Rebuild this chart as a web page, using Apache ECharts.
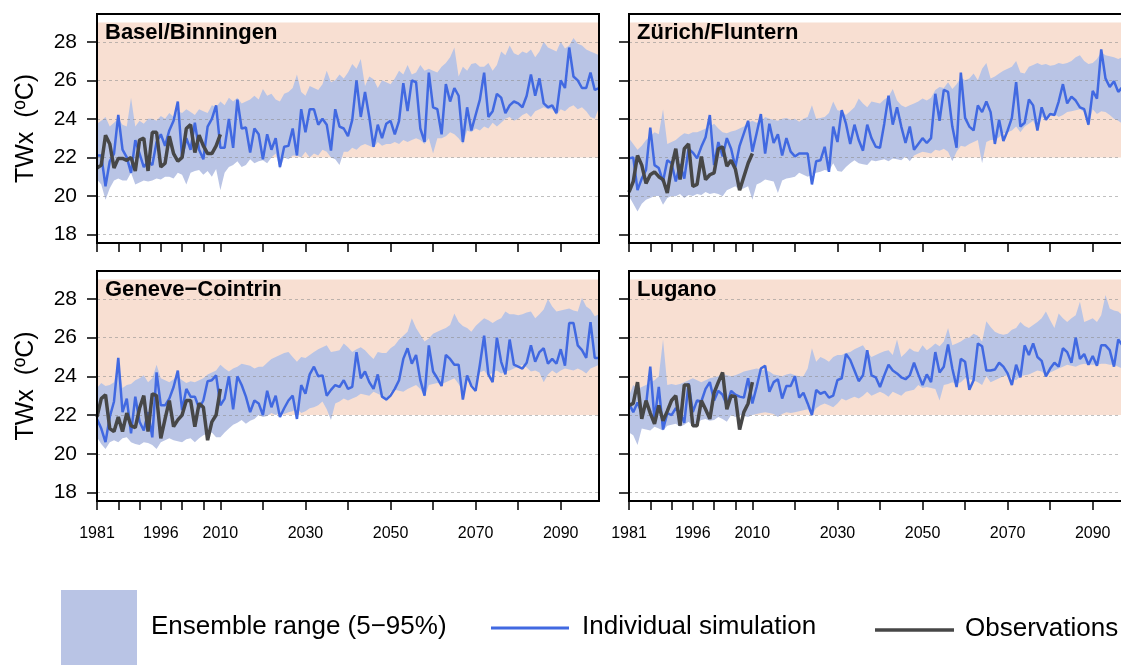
<!DOCTYPE html>
<html>
<head>
<meta charset="utf-8">
<script src="https://cdn.jsdelivr.net/npm/echarts@6/dist/echarts.min.js"></script>
<style>
  html, body { margin: 0; padding: 0; background: #fff; }
  #main { width: 1121px; height: 665px; }
</style>
</head>
<body>
<div id="main"></div>
<script>
// years 1981..2099, observations 1981..2010
var firstYear = 1981;

var stationNames = ['Basel/Binningen', 'Zürich/Fluntern', 'Geneve\u2212Cointrin', 'Lugano'];

var xTickYears = [1981, 1986, 1991, 1996, 2001, 2006, 2010, 2020, 2030, 2040, 2050, 2060, 2070, 2080, 2090];
var xLabelYears = [1981, 1996, 2010, 2030, 2050, 2070, 2090];
var yTicks = [18, 20, 22, 24, 26, 28];

// Basel/Binningen
var baselSim = [22.1,22.1,20.5,21.8,22.2,24.2,22.4,22.0,21.2,22.9,
  22.2,21.5,21.8,21.6,22.8,23.2,22.6,23.4,23.9,24.9,
  22.0,23.0,22.4,23.8,22.4,21.9,23.6,24.0,24.7,22.5,
  22.5,24.0,22.5,25.0,23.5,23.55,22.25,23.5,23.2,21.9,
  23.2,22.4,23.0,21.5,22.55,22.6,23.5,22.1,24.5,23.3,
  24.5,24.5,23.7,24.0,23.7,22.35,24.5,23.6,23.5,23.1,
  23.95,26.0,24.1,25.4,24.1,22.55,23.7,23.0,23.75,23.9,
  23.2,23.9,25.85,24.4,26.0,25.9,23.5,22.8,26.4,24.6,
  24.5,23.2,25.8,24.9,25.6,25.2,22.8,24.6,23.4,24.2,
  25.0,26.4,24.1,24.4,25.3,25.1,24.3,24.7,24.9,24.8,
  24.6,25.2,26.3,25.2,26.1,24.8,24.6,24.7,24.3,26.0,
  25.6,27.7,26.2,26.0,25.6,25.6,26.4,25.5,25.6];
var baselHi = [23.75,23.9,24.1,23.6,23.8,24.0,23.7,23.6,25.1,23.6,
  23.9,23.75,24.0,24.0,23.9,24.15,24.0,24.3,24.1,24.4,
  24.3,24.5,24.35,24.2,24.5,24.4,24.3,24.7,24.6,24.9,
  24.7,25.1,24.9,25.1,24.8,24.9,25.0,25.2,25.0,25.55,
  25.2,25.3,25.0,24.9,25.3,25.4,25.6,26.3,25.4,25.2,
  25.7,25.6,25.5,25.8,26.5,25.9,26.0,26.3,26.1,26.4,
  26.85,26.6,27.1,25.7,26.2,26.05,25.6,26.0,25.9,25.8,
  26.1,26.5,26.3,26.8,26.3,26.4,26.8,26.5,26.6,26.5,
  26.4,26.7,26.9,27.2,27.7,26.2,26.7,26.5,26.85,26.9,
  26.7,26.7,26.9,26.5,26.8,27.5,27.3,27.8,27.4,27.3,
  27.5,27.4,27.6,27.2,27.5,28.0,27.7,27.6,27.5,28.0,
  27.65,27.8,28.2,27.9,27.8,27.6,27.5,27.4,27.3];
var baselLo = [20.85,20.6,19.8,20.4,20.8,20.9,20.8,20.8,21.2,20.6,
  20.7,20.8,20.75,20.8,20.9,20.85,21.0,21.0,20.9,21.2,
  21.1,20.6,21.2,21.3,21.35,21.1,21.3,21.0,21.4,20.3,
  21.2,21.5,21.6,21.8,21.5,21.6,21.9,21.7,21.8,21.85,
  21.7,22.0,22.2,21.4,22.0,21.9,22.1,22.1,22.0,22.3,
  22.0,22.2,22.1,22.4,22.3,22.0,21.9,21.6,22.3,22.3,
  22.5,22.4,22.6,22.7,22.6,22.5,22.8,22.6,22.7,22.7,
  22.8,22.7,22.9,22.8,22.9,23.0,22.9,22.7,23.0,22.2,
  23.0,23.0,23.1,23.3,23.2,23.0,22.7,23.4,23.3,23.5,
  23.4,23.6,23.5,23.8,23.6,23.8,24.0,24.1,23.9,24.0,
  24.2,24.3,24.1,24.4,24.5,24.6,24.5,24.5,24.2,24.5,
  24.4,24.6,24.7,24.5,24.6,24.4,24.1,24.0,24.6];
var baselObs = [21.45,21.6,23.15,22.7,21.45,21.95,21.95,21.85,22.0,21.3,
  22.9,23.0,21.3,23.3,23.3,21.5,21.7,23.1,22.2,21.8,
  22.0,23.5,23.7,22.25,23.15,22.6,22.2,22.2,22.6,23.2];

// Zürich/Fluntern
var zurichSim = [21.95,22.0,20.3,20.9,21.35,23.55,21.6,21.45,20.75,21.85,
  21.7,20.75,21.65,20.9,22.45,22.25,21.95,22.55,23.05,24.2,
  21.6,22.8,22.05,23.0,22.45,21.5,22.6,23.25,23.9,22.3,
  23.25,24.25,22.2,23.75,22.75,23.2,22.1,23.0,22.3,22.05,
  22.2,22.2,22.2,20.6,21.8,21.85,22.55,21.25,23.6,22.8,
  24.45,23.75,22.7,23.7,22.9,22.35,23.7,23.0,22.55,22.5,
  23.75,25.2,23.7,24.6,23.6,22.75,23.6,22.4,22.7,23.0,
  22.75,23.0,25.3,23.9,25.5,25.4,23.6,22.5,26.4,24.05,
  23.6,23.4,24.7,24.35,24.9,24.35,22.7,23.95,22.85,23.4,
  24.05,25.9,23.6,23.8,25.0,24.7,23.4,24.6,23.95,24.25,
  24.2,24.9,25.8,24.8,25.15,24.95,24.6,24.5,23.7,25.45,
  25.05,27.6,26.1,25.65,25.95,25.4,25.65,25.5,25.8];
var zurichHi = [23.0,22.7,22.4,22.6,22.9,23.1,23.3,23.2,24.5,22.7,
  22.8,22.9,23.1,23.25,23.2,23.3,23.3,23.4,23.5,23.6,
  23.75,23.5,23.3,23.25,23.35,23.4,23.5,23.6,23.8,23.9,
  23.8,23.85,24.1,24.0,23.95,23.9,24.0,24.05,23.95,24.0,
  23.85,24.0,24.1,24.7,24.0,24.05,24.1,24.3,24.9,24.45,
  24.4,24.2,24.4,24.6,25.05,24.8,24.6,24.9,24.85,24.8,
  25.0,25.15,25.55,24.95,24.7,24.6,24.7,24.8,24.9,25.05,
  24.95,25.1,25.5,25.65,25.6,25.9,25.55,25.8,26.15,26.0,
  26.1,26.35,26.0,26.6,26.9,26.1,26.2,26.35,26.5,26.6,
  26.7,27.0,26.4,26.35,26.7,26.8,26.9,26.8,26.85,26.75,
  26.8,26.9,26.85,26.9,27.0,27.2,27.3,27.0,26.85,26.9,
  27.1,27.45,27.3,27.25,27.2,27.1,27.2,27.1,27.0];
var zurichLo = [19.98,19.6,19.2,19.6,19.8,19.9,20.0,20.0,19.55,19.9,
  20.0,19.98,20.1,19.9,20.05,20.0,20.1,20.05,20.2,20.1,
  20.15,20.1,19.98,20.3,20.4,20.5,20.3,20.4,20.5,19.8,
  20.6,20.7,20.85,20.8,20.75,20.15,20.8,20.9,20.95,21.0,
  21.2,21.1,21.0,21.1,21.2,21.25,21.35,21.3,21.7,21.3,
  21.25,21.5,21.7,21.85,21.7,21.65,21.6,21.85,21.8,21.85,
  21.9,21.8,21.95,21.9,21.85,22.05,21.8,22.1,22.2,22.3,
  22.25,22.2,22.4,22.35,22.45,22.3,21.8,22.3,22.6,22.55,
  22.7,22.8,22.9,21.7,22.8,22.9,22.9,23.05,23.25,23.3,
  23.4,23.6,23.3,23.6,23.75,23.9,23.4,24.1,24.0,24.2,
  24.25,24.1,24.2,24.35,24.4,24.45,24.5,24.35,23.6,24.5,
  24.25,24.4,24.35,24.2,24.0,23.9,23.75,23.8,23.9];
var zurichObs = [20.2,20.75,22.1,21.6,20.65,21.1,21.25,21.0,20.85,20.15,
  21.5,22.45,20.85,22.45,22.7,20.5,20.6,22.05,20.85,21.1,
  21.2,22.45,22.55,21.55,21.85,21.4,20.3,21.0,21.7,22.2];

// Geneve-Cointrin
var geneveSim = [21.8,21.3,20.6,21.9,22.7,24.95,22.15,22.85,21.05,22.95,
  21.65,21.2,22.15,20.85,24.2,22.5,22.5,22.85,23.45,24.3,
  22.25,23.35,22.95,22.95,22.35,22.75,23.75,23.8,24.05,22.5,
  22.85,24.0,22.3,24.0,23.55,22.95,22.15,22.75,22.6,22.0,
  23.25,22.4,23.0,21.9,22.35,22.75,23.0,21.8,23.55,23.1,
  24.1,24.5,24.0,24.05,23.0,23.3,23.55,23.45,23.8,23.35,
  23.45,25.25,23.9,24.25,23.7,23.35,24.1,22.95,22.8,23.0,
  23.35,23.8,24.9,25.45,24.65,25.1,23.8,23.0,25.6,24.25,
  23.9,23.5,25.1,24.9,24.6,24.6,22.8,24.05,23.5,23.25,
  24.6,26.1,24.1,23.7,26.0,24.75,24.1,25.9,24.6,24.5,
  24.4,24.7,25.6,24.75,25.25,25.45,24.65,24.9,24.65,25.4,
  24.55,26.75,26.75,25.6,25.35,24.95,26.8,24.95,24.95];
var geneveHi = [23.4,23.65,23.5,23.55,23.7,24.75,23.4,23.55,23.6,23.8,
  23.9,24.05,23.7,23.9,24.6,23.9,23.8,23.7,23.85,24.0,
  23.8,23.65,23.75,23.7,23.8,23.9,24.1,24.2,24.3,24.6,
  24.4,24.25,24.4,24.5,24.65,24.6,24.55,24.4,24.5,24.5,
  24.7,24.9,25.0,25.1,25.2,25.25,25.0,24.75,25.0,24.95,
  25.1,25.25,25.4,25.5,25.6,25.25,25.3,25.35,25.7,25.5,
  25.25,25.4,25.5,25.35,25.1,24.9,25.25,25.2,25.2,25.45,
  25.6,25.9,26.1,26.3,27.0,26.5,26.15,25.8,25.95,26.2,
  26.3,26.4,26.5,26.65,27.25,26.8,26.6,26.5,26.3,26.6,
  26.8,27.0,26.9,26.75,26.9,27.0,27.35,27.2,27.2,27.15,
  27.2,27.3,27.35,27.0,27.2,27.45,28.0,27.6,27.35,27.4,
  27.45,27.5,27.4,27.35,28.05,27.6,27.45,27.1,27.2];
var geneveLo = [20.85,20.5,20.25,20.6,20.7,20.6,20.8,20.85,20.6,20.5,
  20.45,20.6,20.55,20.45,20.25,20.6,20.7,20.8,20.7,20.65,
  20.6,20.75,20.8,20.6,20.8,20.95,21.05,21.1,20.85,20.85,
  21.1,21.3,21.5,21.6,21.75,21.55,21.7,21.8,22.0,21.9,
  21.95,22.1,22.0,22.1,22.05,22.15,22.2,22.35,22.1,22.2,
  22.35,22.4,22.5,22.7,22.3,21.75,22.6,22.7,22.85,22.75,
  22.85,22.95,23.1,23.05,23.0,23.2,23.1,23.0,22.7,23.2,
  23.3,23.25,23.2,23.35,23.45,23.55,23.35,22.95,23.55,23.6,
  23.65,23.6,23.7,23.8,23.9,23.6,23.2,23.8,23.6,23.4,
  24.2,24.3,24.0,24.2,24.3,24.15,24.25,24.3,24.4,24.5,
  24.6,24.45,24.25,24.3,24.2,23.7,24.1,24.3,24.15,24.3,
  24.4,24.35,24.3,24.4,24.3,24.15,24.4,24.5,24.6];
var geneveObs = [21.9,22.85,23.05,21.3,21.15,21.9,21.15,22.1,21.45,21.35,
  22.35,23.0,21.15,23.1,23.0,20.8,21.8,22.75,21.4,21.75,
  22.0,22.75,22.75,21.4,22.6,22.4,20.7,21.65,22.0,23.35];

// Lugano
var luganoSim = [22.6,22.15,22.65,22.1,22.5,24.5,21.75,23.45,21.25,22.1,
  22.0,22.35,22.15,21.6,23.65,22.15,22.75,22.7,23.35,23.7,
  22.75,23.25,23.05,22.5,23.25,23.05,22.95,22.9,23.9,22.6,
  23.45,24.4,24.55,23.2,23.7,23.85,22.85,23.5,23.5,24.0,
  22.9,23.15,22.6,22.0,23.3,23.1,23.2,22.9,23.0,23.8,
  23.9,25.15,24.85,24.3,23.75,24.05,25.35,24.05,23.95,23.45,
  24.05,24.6,24.3,24.15,23.95,23.85,24.05,24.7,24.1,23.55,
  24.1,23.7,25.25,24.2,24.5,25.65,24.4,23.45,24.9,24.75,
  23.3,23.8,25.7,25.55,24.3,24.3,24.35,24.7,24.5,24.15,
  23.55,24.6,23.95,25.6,25.1,25.7,25.0,24.8,24.0,24.4,
  24.7,24.5,25.45,25.25,24.7,26.0,24.9,25.15,24.6,25.05,
  24.55,25.6,25.6,25.35,24.5,25.9,25.6,25.7,25.5];
var luganoHi = [23.0,23.55,23.35,23.45,23.55,23.7,23.8,24.0,25.9,23.55,
  23.6,23.55,23.6,23.7,23.8,23.9,23.8,23.7,23.8,23.9,
  23.95,24.0,24.15,24.05,24.0,24.05,24.15,24.25,24.3,24.35,
  24.4,24.35,24.3,24.25,24.1,24.05,24.0,24.1,24.15,24.05,
  24.0,24.0,24.4,25.45,24.75,25.0,24.9,24.75,25.0,25.1,
  25.1,25.2,25.25,25.4,25.5,25.6,25.25,25.0,25.1,25.2,
  25.3,25.35,25.1,25.9,25.0,25.2,25.45,25.3,25.25,25.6,
  25.35,25.5,25.7,25.55,25.8,26.5,25.6,25.7,25.8,25.95,
  26.0,26.2,26.1,25.8,26.85,26.55,26.3,26.2,26.15,26.2,
  26.4,26.5,26.8,26.6,26.5,26.65,26.8,27.0,27.35,26.9,
  26.5,27.25,27.0,26.8,27.0,27.15,27.85,26.8,26.9,27.0,
  26.8,27.15,28.2,27.5,27.4,27.35,27.15,27.1,27.2];
var luganoLo = [21.1,20.95,20.45,21.3,21.25,21.2,21.4,21.3,21.2,21.45,
  21.5,21.55,21.4,21.5,21.65,21.45,21.6,21.75,21.8,21.7,
  21.75,21.9,21.8,21.65,22.0,21.9,22.0,21.95,21.9,22.0,
  22.05,22.1,22.15,22.1,22.05,21.9,22.05,22.15,22.1,22.15,
  22.2,22.25,22.3,22.0,22.35,22.5,22.6,22.5,22.4,22.6,
  22.85,22.75,22.85,22.95,22.85,23.0,23.2,23.0,23.1,23.2,
  23.1,22.95,23.2,23.1,23.0,23.2,23.25,23.3,23.55,23.4,
  23.45,23.4,23.35,22.75,23.55,23.6,23.7,23.6,23.7,23.9,
  23.85,23.8,23.7,23.55,24.0,23.7,23.8,23.9,24.0,24.05,
  23.9,23.8,24.0,24.05,24.1,24.2,24.3,24.25,24.05,24.2,
  24.3,24.4,24.5,24.6,24.55,24.5,24.6,24.65,24.6,24.6,
  24.6,24.65,24.65,24.6,24.6,24.5,24.4,24.5,24.6];
var luganoObs = [22.5,22.6,23.7,21.8,22.75,22.1,21.55,22.5,21.7,22.2,
  22.75,23.0,21.45,23.55,23.55,21.45,21.45,22.75,22.3,21.8,
  23.15,23.7,24.2,22.3,23.0,22.95,21.25,22.15,22.6,23.7];

var sims = [baselSim, zurichSim, geneveSim, luganoSim];
var his = [baselHi, zurichHi, geneveHi, luganoHi];
var los = [baselLo, zurichLo, geneveLo, luganoLo];
var obss = [baselObs, zurichObs, geneveObs, luganoObs];

var font = '"Liberation Sans", Arial, Helvetica, sans-serif';
var bandColor = '#b9c4e5';
var peachColor = '#f8dfd2';
var simColor = '#4169e1';
var obsColor = '#474747';

var gridBoxes = [
  {left: 97, top: 14, width: 502, height: 229},
  {left: 629, top: 14, width: 502, height: 229},
  {left: 97, top: 271, width: 502, height: 230},
  {left: 629, top: 271, width: 502, height: 230}
];

function pairs(arr) {
  return arr.map(function (v, i) { return [firstYear + i, v]; });
}

// one polygon per panel: upper edge left->right, lower edge right->left
function bandRenderer(lo, hi) {
  return function (params, api) {
    if (params.dataIndex !== 0) return null;
    var pts = [];
    for (var k = 0; k < hi.length; k++) pts.push(api.coord([firstYear + k, hi[k]]));
    for (var k2 = lo.length - 1; k2 >= 0; k2--) pts.push(api.coord([firstYear + k2, lo[k2]]));
    return {
      type: 'polygon',
      shape: {points: pts},
      style: {fill: bandColor},
      silent: true
    };
  };
}

var grids = [], xAxes = [], yAxes = [], series = [], titles = [];

for (var i = 0; i < 4; i++) {
  var g = gridBoxes[i];
  var bottomRow = i >= 2;
  var leftCol = i % 2 === 0;

  grids.push({
    left: g.left, top: g.top, width: g.width, height: g.height,
    show: true, borderColor: '#000', borderWidth: 2, backgroundColor: 'transparent',
    z: 6, outerBoundsMode: 'none', containLabel: false
  });

  xAxes.push({
    type: 'value', gridIndex: i, min: 1981, max: 2099,
    axisLine: {show: false},
    axisTick: {show: true, customValues: xTickYears, length: 9, lineStyle: {color: '#000', width: 1.5}},
    axisLabel: {
      show: bottomRow, customValues: xLabelYears, margin: 25,
      color: '#000', fontSize: 16, fontFamily: font,
      formatter: function (v) { return String(v); }
    },
    splitLine: {show: false}
  });

  yAxes.push({
    type: 'value', gridIndex: i, min: 17.56, max: 29.44,
    name: leftCol ? 'TWx  (\u00baC)' : '',
    nameLocation: 'middle', nameGap: 58, nameMoveOverlap: false,
    nameTextStyle: {color: '#000', fontSize: 25, fontFamily: font},
    axisLine: {show: false},
    axisTick: {show: true, customValues: yTicks, length: 10, lineStyle: {color: '#000', width: 1.5}},
    axisLabel: {show: leftCol, customValues: yTicks, margin: 20, color: '#000', fontSize: 21, fontFamily: font},
    splitLine: {show: true, lineStyle: {color: 'rgba(140,140,140,0.55)', width: 1, type: [3, 3]}},
    z: 3
  });

  titles.push({
    text: stationNames[i], left: g.left + 8, top: g.top + 8, padding: 0,
    textStyle: {color: '#000', fontSize: 22, fontWeight: 'bold', fontFamily: font}
  });

  var lo = los[i], hi = his[i];
  var bandData = lo.map(function (v, k) { return [firstYear + k, v, hi[k]]; });

  series.push({
    type: 'custom', xAxisIndex: i, yAxisIndex: i, data: bandData,
    encode: {x: 0, y: [1, 2]},
    renderItem: bandRenderer(lo, hi),
    clip: true, silent: true, z: 2,
    markArea: {
      silent: true, z: 1,
      itemStyle: {color: peachColor},
      data: [[{yAxis: 22}, {yAxis: 29}]]
    }
  });
  series.push({
    type: 'line', xAxisIndex: i, yAxisIndex: i, data: pairs(sims[i]),
    symbol: 'none', silent: true, z: 4,
    lineStyle: {color: simColor, width: 2.5}
  });
  series.push({
    type: 'line', xAxisIndex: i, yAxisIndex: i, data: pairs(obss[i]),
    symbol: 'none', silent: true, z: 5,
    lineStyle: {color: obsColor, width: 3.5}
  });
}

var chart = echarts.init(document.getElementById('main'), null, {renderer: 'canvas'});
chart.setOption({
  animation: false,
  backgroundColor: '#fff',
  title: titles,
  grid: grids,
  xAxis: xAxes,
  yAxis: yAxes,
  series: series,
  graphic: [
    {type: 'rect', shape: {x: 61, y: 590, width: 76, height: 75}, style: {fill: bandColor}},
    {type: 'text', x: 151, y: 627, style: {text: 'Ensemble range (5\u221295%)', fontSize: 26, fontFamily: font, fill: '#000', verticalAlign: 'middle'}},
    {type: 'line', shape: {x1: 491, y1: 628, x2: 569, y2: 628}, style: {stroke: simColor, lineWidth: 3}},
    {type: 'text', x: 582, y: 627, style: {text: 'Individual simulation', fontSize: 26, fontFamily: font, fill: '#000', verticalAlign: 'middle'}},
    {type: 'line', shape: {x1: 875, y1: 630, x2: 954, y2: 630}, style: {stroke: obsColor, lineWidth: 3.5}},
    {type: 'text', x: 965, y: 629, style: {text: 'Observations', fontSize: 26, fontFamily: font, fill: '#000', verticalAlign: 'middle'}}
  ]
});
</script>
</body>
</html>
